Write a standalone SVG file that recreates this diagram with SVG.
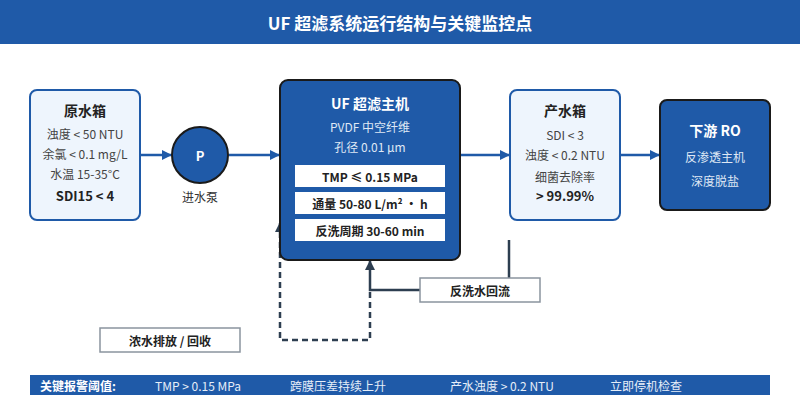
<svg xmlns="http://www.w3.org/2000/svg" width="800" height="400" viewBox="0 0 800 400">
<style>
text{font-family:"Noto Sans CJK SC","Noto Sans",sans-serif;text-anchor:middle;dominant-baseline:central}
.title{font-size:17px;font-weight:bold;fill:#fff}
.lbox{fill:#eef5fd;stroke:#1f5aa8;stroke-width:2}
.dbox{fill:#1f5aa8;stroke:#1a1a1a;stroke-width:2}
.h{font-size:14px;font-weight:bold;fill:#222}
.t{font-size:12px;fill:#444}
.b{font-size:13px;font-weight:bold;fill:#222}
.hw{font-size:14px;font-weight:bold;fill:#fff}
.tw{font-size:12px;fill:#dfe8f5}
.wbox{fill:#fff}
.wt{font-size:12px;font-weight:bold;fill:#222}
.flow{stroke:#1f5aa8;stroke-width:2.5;fill:none}
.bw{stroke:#2d3e50;stroke-width:2.5;fill:none}
.gbox{fill:#fff;stroke:#8a949e;stroke-width:1.5}
.ft{font-size:12px;fill:#e6eef8;text-anchor:start}
</style>
<defs>
<marker id="ab" viewBox="0 0 10 10" refX="9" refY="5" markerWidth="4" markerHeight="4" orient="auto" markerUnits="strokeWidth"><path d="M0,0 L10,5 L0,10 z" fill="#1f5aa8"/></marker>
<marker id="ad" viewBox="0 0 10 10" refX="9" refY="5" markerWidth="4" markerHeight="4" orient="auto" markerUnits="strokeWidth"><path d="M0,0 L10,5 L0,10 z" fill="#2d3e50"/></marker>
</defs>
<rect x="0" y="0" width="800" height="44" fill="#1f5aa8"/>
<text class="title" x="400" y="22">UF 超滤系统运行结构与关键监控点</text>

<g id="connectors">
<line class="flow" x1="141" y1="155" x2="171" y2="155" marker-end="url(#ab)"/>
<line class="flow" x1="229" y1="155" x2="279" y2="155" marker-end="url(#ab)"/>
<line class="flow" x1="461" y1="155" x2="509" y2="155" marker-end="url(#ab)"/>
<line class="flow" x1="621" y1="155" x2="659" y2="155" marker-end="url(#ab)"/>
<line class="bw" x1="509" y1="240" x2="509" y2="278"/>
<polyline class="bw" points="420,290 370,290 370,261" marker-end="url(#ad)"/>
<polyline class="bw" points="370,292 370,340 280,340 280,223" stroke-dasharray="6,4" marker-end="url(#ad)"/>
</g>

<g id="raw-tank">
<rect class="lbox" x="30" y="90" width="110" height="130" rx="7"/>
<text class="h" x="85" y="110">原水箱</text>
<text class="t" x="85" y="133">浊度 &lt; 50 NTU</text>
<text class="t" x="85" y="153">余氯 &lt; 0.1 mg/L</text>
<text class="t" x="85" y="173">水温 15-35°C</text>
<text class="b" x="85" y="195">SDI15 &lt; 4</text>
</g>

<g id="pump">
<circle cx="200" cy="155" r="28" fill="#1f5aa8" stroke="#1a1a1a" stroke-width="2"/>
<text x="200" y="155" style="font-size:13px;font-weight:bold;fill:#fff">P</text>
<text class="t" x="200" y="196" style="fill:#333">进水泵</text>
</g>

<g id="uf-main">
<rect class="dbox" x="280" y="80" width="180" height="180" rx="8"/>
<text class="hw" x="370" y="103">UF 超滤主机</text>
<text class="tw" x="370" y="126">PVDF 中空纤维</text>
<text class="tw" x="370" y="146">孔径 0.01 μm</text>
<rect class="wbox" x="295" y="165" width="150" height="22"/>
<text class="wt" x="370" y="176">TMP ≤ 0.15 MPa</text>
<rect class="wbox" x="295" y="192" width="150" height="22"/>
<text class="wt" x="370" y="203">通量 50-80 L/m² · h</text>
<rect class="wbox" x="295" y="219" width="150" height="22"/>
<text class="wt" x="370" y="230">反洗周期 30-60 min</text>
</g>

<g id="product-tank">
<rect class="lbox" x="510" y="90" width="110" height="130" rx="7"/>
<text class="h" x="565" y="110">产水箱</text>
<text class="t" x="565" y="134">SDI &lt; 3</text>
<text class="t" x="565" y="154">浊度 &lt; 0.2 NTU</text>
<text class="t" x="565" y="176">细菌去除率</text>
<text class="b" x="565" y="195">&gt; 99.99%</text>
</g>

<g id="ro">
<rect class="dbox" x="660" y="100" width="110" height="110" rx="7"/>
<text class="hw" x="715" y="130">下游 RO</text>
<text class="tw" x="715" y="156">反渗透主机</text>
<text class="tw" x="715" y="180">深度脱盐</text>
</g>

<g id="backwash">
<rect class="gbox" x="420" y="278" width="120" height="24"/>
<text class="wt" x="480" y="290">反洗水回流</text>
</g>

<g id="concentrate">
<rect class="gbox" x="100" y="328" width="140" height="24"/>
<text class="wt" x="170" y="340">浓水排放 / 回收</text>
</g>

<g id="footer">
<rect x="30" y="375" width="740" height="20" fill="#1f5aa8"/>
<text class="ft" x="40" y="385" style="font-weight:bold;fill:#fff">关键报警阈值:</text>
<text class="ft" x="155" y="385">TMP &gt; 0.15 MPa</text>
<text class="ft" x="290" y="385">跨膜压差持续上升</text>
<text class="ft" x="450" y="385">产水浊度 &gt; 0.2 NTU</text>
<text class="ft" x="610" y="385">立即停机检查</text>
</g>
</svg>
